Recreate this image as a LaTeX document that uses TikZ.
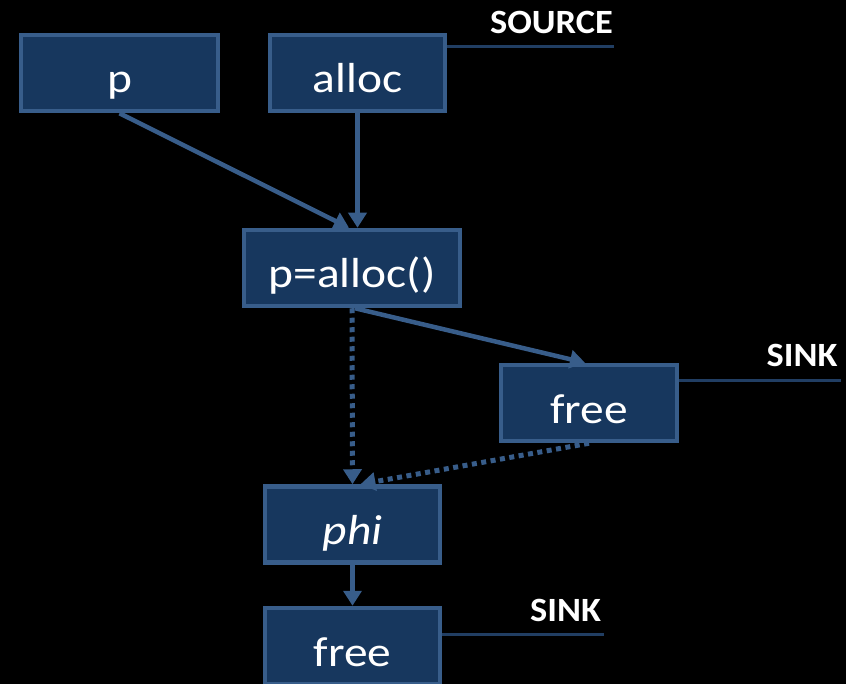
\documentclass[tikz,border=0pt]{standalone}
\usepackage{fontspec}
\setmainfont{Carlito}
\newfontfamily\boxfont[FakeStretch=1.13]{Carlito}
\newfontfamily\tagfont[FakeStretch=1.07]{Carlito}
\usetikzlibrary{arrows.meta}
\definecolor{boxfill}{HTML}{17375E}
\definecolor{boxline}{HTML}{385D8A}
\definecolor{leader}{HTML}{213E63}
\tikzset{
  block/.style={draw=boxline, fill=boxfill, line width=4.5pt, minimum height=76pt,
    inner sep=0pt, text height=50pt, text depth=10pt, text=white,
    font=\boxfont\fontsize{42}{48}\selectfont},
  flow/.style={draw=boxline, line width=4.5pt, -{Triangle[width=18pt,length=15pt]}},
  dotflow/.style={flow, line width=5pt, dash pattern=on 5pt off 4.5pt},
  leaderline/.style={draw=leader, line width=3pt},
  tag/.style={text=white, font=\tagfont\bfseries\fontsize{34}{36}\selectfont, anchor=base, inner sep=0pt}
}
\begin{document}
\begin{tikzpicture}[x=1pt, y=-1pt]
  \fill[black] (0,0) rectangle (846,684);
  \useasboundingbox (0,0) rectangle (846,684);

  % statement and call nodes
  \node[block, minimum width=197pt] (p)     at (119.5,73)  {p};
  \node[block, minimum width=175pt] (alloc) at (357.5,73)  {alloc};
  \node[block, minimum width=216pt] (pa)    at (352,268)   {p=alloc()};
  \node[block, minimum width=176pt] (free1) at (589,403)   {free};
  \node[block, minimum width=175pt] (phi)   at (352.5,524.5) {\itshape phi};
  \node[block, minimum width=175pt] (free2) at (352.5,646) {free};

  % data flow
  \draw[flow] (p.south) -- ([xshift=-3pt]pa.north);
  \draw[flow] (alloc.south) -- (alloc.south |- pa.north);
  \draw[flow] ([xshift=3pt]pa.south) -- ([xshift=-4pt]free1.north);
  \draw[dotflow] (pa.south) -- (phi.north);
  \draw[dotflow] (free1.south) -- ([xshift=8pt]phi.north);
  \draw[flow] (phi.south) -- (free2.north);

  % source / sink annotations
  \coordinate (srcend)   at (614,47);
  \coordinate (sinkAend) at (841,381);
  \coordinate (sinkBend) at (604,634);
  \draw[leaderline] (alloc.east |- srcend) -- (srcend);
  \draw[leaderline] (free1.east |- sinkAend) -- (sinkAend);
  \draw[leaderline] (free2.east |- sinkBend) -- (sinkBend);
  \node[tag] (src)   at (551.5,33.3) {SOURCE};
  \node[tag] (sinkA) at (802,367)    {SINK};
  \node[tag] (sinkB) at (565.5,621)  {SINK};
\end{tikzpicture}
\end{document}
